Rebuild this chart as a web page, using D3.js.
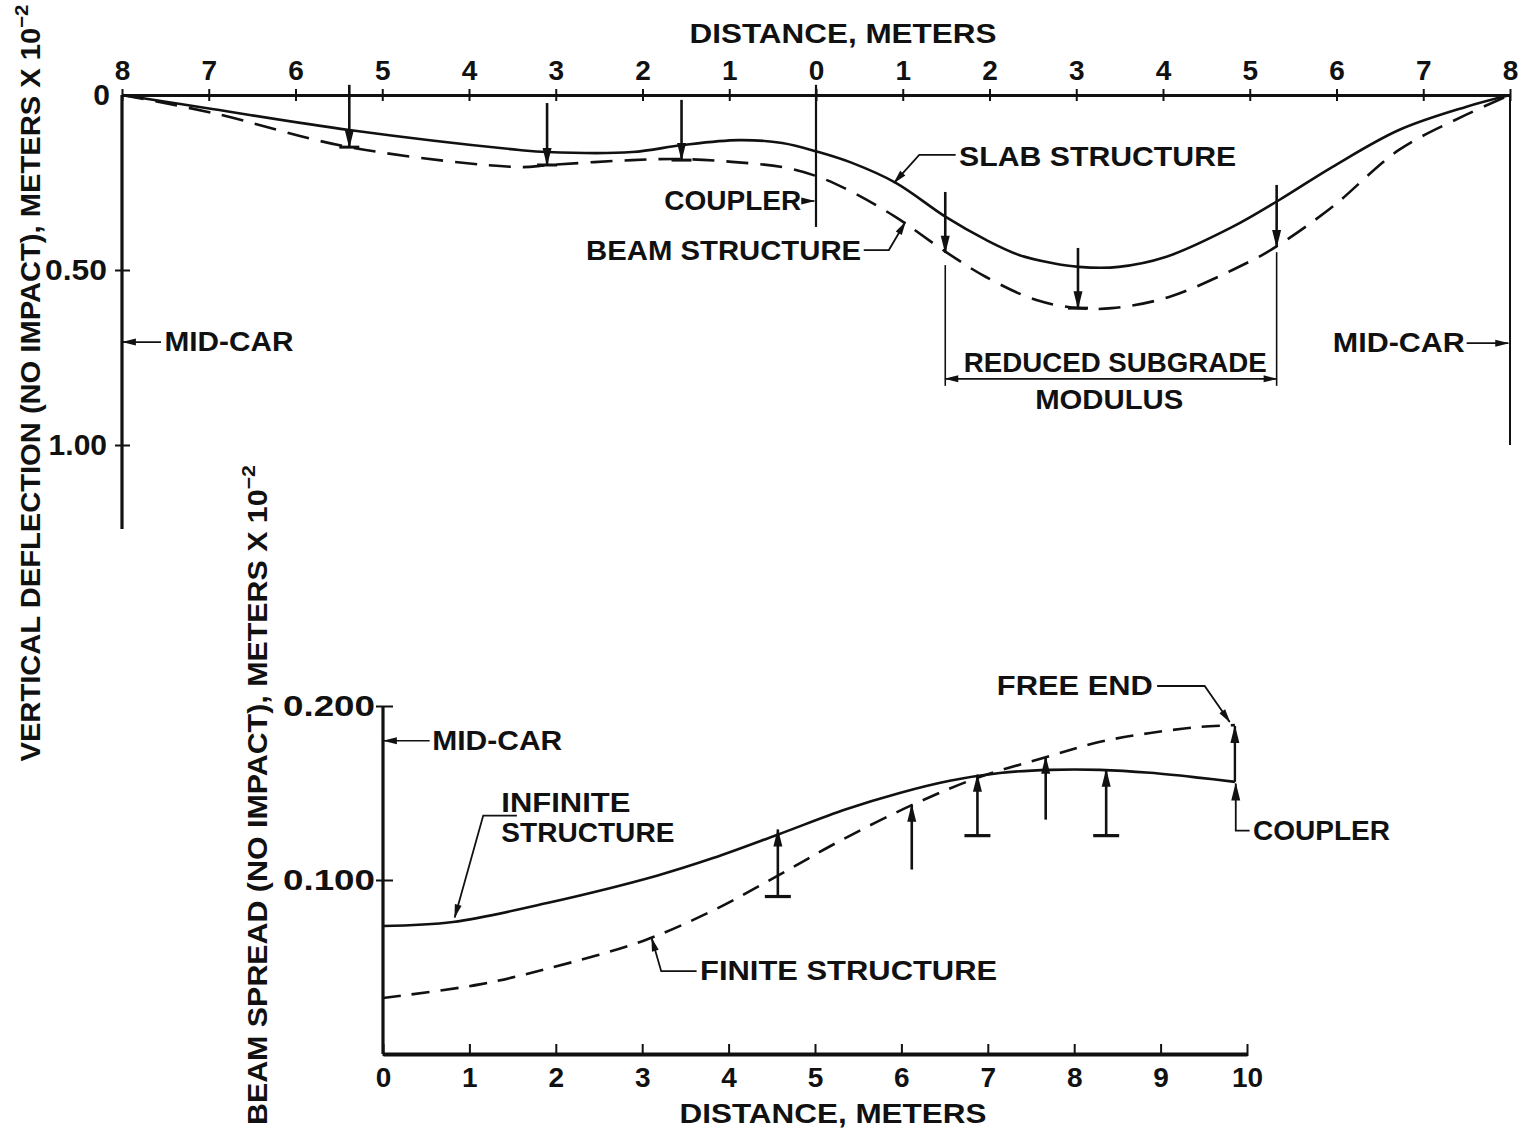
<!DOCTYPE html>
<html>
<head>
<meta charset="utf-8">
<script src="https://cdn.jsdelivr.net/npm/d3@7"></script>
<style>
  body { margin: 0; background: #fff; }
  text { font-family: "Liberation Sans", Arial, sans-serif; font-weight: bold; fill: #111; }
</style>
</head>
<body>
<svg id="chart"></svg>
<script>
// ---- top chart: vertical deflection vs distance from coupler (left side negative)
var topTicks = [-8, -7, -6, -5, -4, -3, -2, -1, 0, 1, 2, 3, 4, 5, 6, 7, 8];
var slabDist = [-8, -6.96, -5.38, -3.42, -3.1, -2.12, -1.54, -0.89, -0.39, 0.03, 0.415, 0.92, 1.5, 1.96, 2.34, 2.72, 3.03, 3.49, 4.03, 4.8, 5.34, 5.95, 6.72, 7.49, 8];
var slabDefl = [0, 0.04, 0.10, 0.157, 0.163, 0.163, 0.143, 0.129, 0.137, 0.163, 0.194, 0.251, 0.349, 0.414, 0.457, 0.48, 0.491, 0.491, 0.463, 0.377, 0.30, 0.206, 0.10, 0.034, 0];
var beamDist = [-8, -6.96, -5.38, -3.42, -3.08, -2.12, -1.54, -0.97, -0.39, 0.03, 0.415, 0.92, 1.5, 1.96, 2.54, 3.03, 3.41, 4.07, 4.99, 5.3, 5.95, 6.72, 7.49, 8];
var beamDefl = [0, 0.051, 0.149, 0.206, 0.20, 0.186, 0.183, 0.191, 0.206, 0.234, 0.277, 0.349, 0.449, 0.52, 0.586, 0.609, 0.609, 0.577, 0.477, 0.434, 0.32, 0.157, 0.057, 0];
var topWheelX = [-5.38, -3.1, -1.55, 1.49, 3.02, 5.31];
var topWheelFrom = [-0.029, 0.023, 0.014, 0.277, 0.437, 0.257];
var topWheelTo = [0.149, 0.20, 0.186, 0.451, 0.609, 0.434];
var topWheelBar = [true, true, true, false, true, false];
var topYTicks = [0, 0.5, 1.0];

// ---- bottom chart: beam spread vs distance
var botTicks = [0, 1, 2, 3, 4, 5, 6, 7, 8, 9, 10];
var infDist = [0, 0.81, 1.90, 3.17, 3.82, 4.56, 5.35, 5.98, 6.56, 7.14, 7.72, 8.30, 8.88, 9.46, 9.86];
var infSpread = [0.0736, 0.0759, 0.0868, 0.1025, 0.1126, 0.1259, 0.1405, 0.150, 0.1570, 0.1615, 0.1633, 0.1633, 0.1616, 0.1587, 0.1564];
var finDist = [0, 1.12, 1.90, 3.01, 3.82, 4.57, 5.29, 6.12, 6.88, 7.69, 8.30, 8.88, 9.46, 9.86];
var finSpread = [0.0322, 0.0400, 0.0490, 0.0650, 0.0825, 0.1025, 0.1225, 0.1430, 0.1587, 0.1708, 0.1794, 0.1845, 0.188, 0.189];
var botWheelX = [4.57, 6.12, 6.88, 7.67, 8.37];
var botWheelFrom = [0.0905, 0.106, 0.1255, 0.1347, 0.1255];
var botWheelTo = [0.129, 0.1433, 0.1605, 0.1708, 0.1633];
var botWheelBar = [true, false, true, false, true];
var botYTicks = [0.1, 0.2];

var W = 1521, H = 1135, ink = '#111';
var svg = d3.select('#chart').attr('width', W).attr('height', H);
svg.append('rect').attr('width', W).attr('height', H).attr('fill', '#fff');

var defs = svg.append('defs');
defs.append('marker').attr('id', 'arr')
  .attr('viewBox', '-18 -6 20 12').attr('refX', 0).attr('refY', 0)
  .attr('markerWidth', 20).attr('markerHeight', 12)
  .attr('markerUnits', 'userSpaceOnUse').attr('orient', 'auto-start-reverse')
  .append('path').attr('d', 'M1,0 L-17,-4.5 L-17,4.5 Z').attr('fill', ink);
defs.append('marker').attr('id', 'arrS')
  .attr('viewBox', '-14 -5 16 10').attr('refX', 0).attr('refY', 0)
  .attr('markerWidth', 16).attr('markerHeight', 10)
  .attr('markerUnits', 'userSpaceOnUse').attr('orient', 'auto-start-reverse')
  .append('path').attr('d', 'M1,0 L-13,-3.5 L-13,3.5 Z').attr('fill', ink);

var topX = d3.scaleLinear().domain([-8, 8]).range([122, 1510]);
var topY = d3.scaleLinear().domain([0, 1]).range([95, 445]);
var botX = d3.scaleLinear().domain([0, 10]).range([383, 1247]);
var botY = d3.scaleLinear().domain([0, 0.2]).range([1054, 706]);

function path(g, pts, sx, sy, w, opts) {
  opts = opts || {};
  var line = d3.line().x(function(d) { return sx(d[0]); }).y(function(d) { return sy(d[1]); });
  if (opts.curve) line.curve(opts.curve);
  var p = g.append('path').attr('d', line(pts)).attr('fill', 'none')
    .attr('stroke', ink).attr('stroke-width', w);
  if (opts.dash) p.attr('stroke-dasharray', opts.dash);
  if (opts.end) p.attr('marker-end', 'url(#' + opts.end + ')');
  if (opts.start) p.attr('marker-start', 'url(#' + opts.start + ')');
  return p;
}
function label(g, str, x, y, anchor, size, len) {
  var t = g.append('text').attr('x', x).attr('y', y).attr('text-anchor', anchor || 'start')
    .attr('dominant-baseline', 'central').attr('font-size', size || 27).text(str);
  if (len) t.attr('textLength', len).attr('lengthAdjust', 'spacingAndGlyphs');
  return t;
}

// ================= TOP CHART =================
var gt = svg.append('g');

var axT = gt.append('g').attr('transform', 'translate(0,' + topY(0) + ')')
  .call(d3.axisTop(topX).tickValues(topTicks).tickFormat(function(d) { return Math.abs(d); })
    .tickSizeInner(6).tickSizeOuter(0).tickPadding(9));
axT.attr('font-family', null).attr('font-size', null);
axT.select('.domain').attr('stroke', ink).attr('stroke-width', 3.2);
axT.selectAll('.tick line').attr('stroke', ink).attr('stroke-width', 2).attr('y1', 6).attr('y2', -6);
axT.selectAll('.tick text').attr('font-size', 28).attr('fill', ink);
label(gt, 'DISTANCE, METERS', 843, 33, 'middle', 28, 307);

var ayT = gt.append('g').attr('transform', 'translate(' + topX(-8) + ',0)')
  .call(d3.axisLeft(topY).tickValues(topYTicks)
    .tickFormat(function(d) { return d === 0 ? '0' : d.toFixed(2); })
    .tickSizeInner(7).tickSizeOuter(0).tickPadding(8));
ayT.attr('font-family', null).attr('font-size', null);
ayT.select('.domain').remove();
ayT.selectAll('.tick line').attr('stroke', ink).attr('stroke-width', 2).attr('x1', 8).attr('x2', -7)
  .filter(function(d) { return d === 0; }).remove();
ayT.selectAll('.tick text').attr('font-size', 30).attr('fill', ink);
ayT.selectAll('.tick').filter(function(d) { return d === 0; }).select('text').attr('x', -12);
ayT.selectAll('.tick').filter(function(d) { return d === 0.5; }).select('text')
  .attr('textLength', 62).attr('lengthAdjust', 'spacingAndGlyphs');
path(gt, [[-8, 0], [-8, 1.24]], topX, topY, 3.2);
path(gt, [[8, 0], [8, 1.0]], topX, topY, 2);

// curves
path(gt, slabDist.map(function(d, i) { return [d, slabDefl[i]]; }), topX, topY, 2.6, { curve: d3.curveCatmullRom });
path(gt, beamDist.map(function(d, i) { return [d, beamDefl[i]]; }), topX, topY, 2.6, { curve: d3.curveCatmullRom, dash: '22,12' });

// wheel loads
topWheelX.forEach(function(x, i) {
  path(gt, [[x, topWheelFrom[i]], [x, topWheelTo[i]]], topX, topY, 2.6, { end: 'arr' });
  if (topWheelBar[i]) {
    gt.append('line').attr('x1', topX(x) - 10).attr('x2', topX(x) + 10)
      .attr('y1', topY(topWheelTo[i])).attr('y2', topY(topWheelTo[i]))
      .attr('stroke', ink).attr('stroke-width', 3);
  }
});

// coupler
path(gt, [[0, -0.029], [0, 0.377]], topX, topY, 2.2);
path(gt, [[-0.16, 0.303], [-0.02, 0.303]], topX, topY, 1.6, { end: 'arrS' });
label(gt, 'COUPLER', topX(-0.17), topY(0.303), 'end', 27, 137);

// slab / beam leaders
path(gt, [[1.61, 0.171], [1.19, 0.171], [0.90, 0.251]], topX, topY, 1.8, { end: 'arrS' });
label(gt, 'SLAB STRUCTURE', topX(1.65), topY(0.177), 'start', 28, 277);
path(gt, [[0.55, 0.443], [0.84, 0.443], [1.03, 0.363]], topX, topY, 1.8, { end: 'arrS' });
label(gt, 'BEAM STRUCTURE', topX(0.52), topY(0.443), 'end', 28, 275);

// reduced subgrade bracket
path(gt, [[1.49, 0.486], [1.49, 0.831]], topX, topY, 1.6);
path(gt, [[5.31, 0.449], [5.31, 0.831]], topX, topY, 1.6);
path(gt, [[1.49, 0.811], [5.31, 0.811]], topX, topY, 1.8, { start: 'arrS', end: 'arrS' });
label(gt, 'REDUCED SUBGRADE', topX(3.45), topY(0.763), 'middle', 28, 303);
label(gt, 'MODULUS', topX(3.38), topY(0.869), 'middle', 28, 148);

// mid-car marks
path(gt, [[-7.55, 0.706], [-7.99, 0.706]], topX, topY, 1.6, { end: 'arrS' });
label(gt, 'MID-CAR', topX(-7.51), topY(0.706), 'start', 27, 129);
path(gt, [[7.5, 0.709], [7.98, 0.709]], topX, topY, 1.6, { end: 'arrS' });
label(gt, 'MID-CAR', topX(7.48), topY(0.709), 'end', 27, 132);

// y title
var t1 = gt.append('text').attr('transform', 'translate(31,' + 383 + ') rotate(-90)')
  .attr('text-anchor', 'middle').attr('dominant-baseline', 'central').attr('font-size', 27)
  .attr('textLength', 757).attr('lengthAdjust', 'spacingAndGlyphs');
t1.append('tspan').text('VERTICAL DEFLECTION (NO IMPACT), METERS X 10');
t1.append('tspan').attr('dy', -10).attr('font-size', 19).text('\u22122');

// ================= BOTTOM CHART =================
var gb = svg.append('g');

var axB = gb.append('g').attr('transform', 'translate(0,' + botY(0) + ')')
  .call(d3.axisBottom(botX).tickValues(botTicks).tickSizeInner(-10).tickSizeOuter(0).tickPadding(13));
axB.attr('font-family', null).attr('font-size', null);
axB.select('.domain').attr('stroke', ink).attr('stroke-width', 4);
axB.selectAll('.tick line').attr('stroke', ink).attr('stroke-width', 2).attr('y1', 2);
axB.selectAll('.tick text').attr('font-size', 28).attr('fill', ink);
label(gb, 'DISTANCE, METERS', 833, 1113, 'middle', 28, 307);

var ayB = gb.append('g').attr('transform', 'translate(' + botX(0) + ',0)')
  .call(d3.axisLeft(botY).tickValues(botYTicks).tickFormat(d3.format('.3f'))
    .tickSizeInner(7).tickSizeOuter(0).tickPadding(1));
ayB.attr('font-family', null).attr('font-size', null);
ayB.select('.domain').remove();
ayB.selectAll('.tick line').attr('stroke', ink).attr('stroke-width', 2).attr('x1', 10).attr('x2', -7);
ayB.selectAll('.tick text').attr('font-size', 30).attr('fill', ink)
  .attr('textLength', 92).attr('lengthAdjust', 'spacingAndGlyphs');
path(gb, [[0, 0], [0, 0.2]], botX, botY, 3.2);

path(gb, infDist.map(function(d, i) { return [d, infSpread[i]]; }), botX, botY, 2.6, { curve: d3.curveCatmullRom });
path(gb, finDist.map(function(d, i) { return [d, finSpread[i]]; }), botX, botY, 2.6, { curve: d3.curveCatmullRom, dash: '18,11' });

botWheelX.forEach(function(x, i) {
  path(gb, [[x, botWheelFrom[i]], [x, botWheelTo[i]]], botX, botY, 2.6, { end: 'arr' });
  if (botWheelBar[i]) {
    gb.append('line').attr('x1', botX(x) - 13).attr('x2', botX(x) + 13)
      .attr('y1', botY(botWheelFrom[i])).attr('y2', botY(botWheelFrom[i]))
      .attr('stroke', ink).attr('stroke-width', 3.2);
  }
});

// coupler / free end at x = 9.86
path(gb, [[9.86, 0.1564], [9.86, 0.1885]], botX, botY, 2.4, { end: 'arr' });
path(gb, [[10.03, 0.1284], [9.87, 0.1284], [9.87, 0.146], [9.87, 0.1555]], botX, botY, 1.8, { end: 'arr' });
label(gb, 'COUPLER', botX(10.07), botY(0.1284), 'start', 27, 137);
path(gb, [[8.96, 0.2115], [9.51, 0.2115], [9.80, 0.1908]], botX, botY, 1.8, { end: 'arrS' });
label(gb, 'FREE END', botX(8.91), botY(0.2115), 'end', 27, 156);

// curve labels
path(gb, [[1.55, 0.137], [1.16, 0.137], [0.83, 0.0785]], botX, botY, 1.8, { end: 'arrS' });
label(gb, 'INFINITE', botX(1.37), botY(0.1444), 'start', 27, 129);
label(gb, 'STRUCTURE', botX(1.37), botY(0.1272), 'start', 27, 173);
path(gb, [[3.63, 0.0476], [3.22, 0.0476], [3.11, 0.0665]], botX, botY, 1.8, { end: 'arrS' });
label(gb, 'FINITE STRUCTURE', botX(3.67), botY(0.0476), 'start', 27, 297);

path(gb, [[0.54, 0.18], [0.01, 0.18]], botX, botY, 1.6, { end: 'arrS' });
label(gb, 'MID-CAR', botX(0.57), botY(0.18), 'start', 27, 130);

var t2 = gb.append('text').attr('transform', 'translate(258,' + 795 + ') rotate(-90)')
  .attr('text-anchor', 'middle').attr('dominant-baseline', 'central').attr('font-size', 27)
  .attr('textLength', 660).attr('lengthAdjust', 'spacingAndGlyphs');
t2.append('tspan').text('BEAM SPREAD (NO IMPACT), METERS X 10');
t2.append('tspan').attr('dy', -10).attr('font-size', 19).text('\u22122');
</script>
</body>
</html>
